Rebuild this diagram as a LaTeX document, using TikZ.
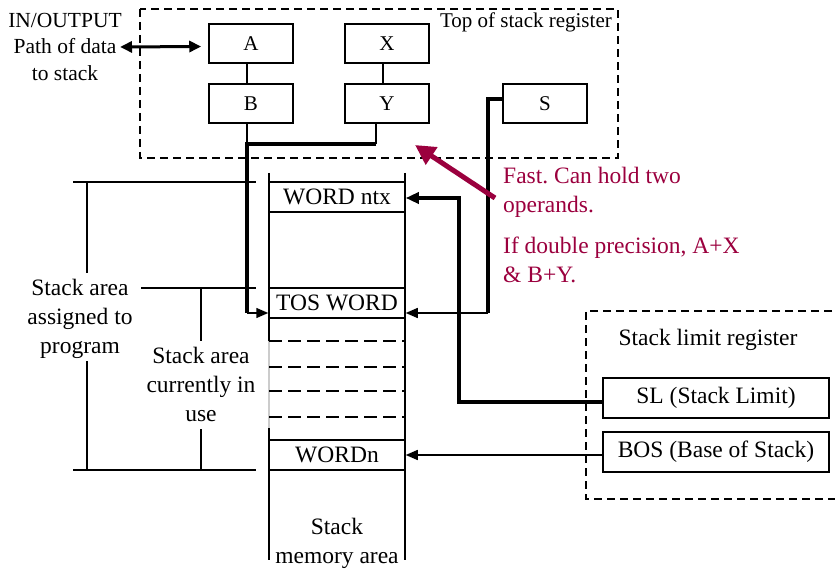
\documentclass[tikz,border=0pt]{standalone}
\usepackage{fontspec}
\setmainfont{Liberation Serif}
\usetikzlibrary{arrows.meta,calc}
\definecolor{maroon}{RGB}{155,0,62}
\frenchspacing
\tikzset{
  reg/.style={draw, line width=1.5pt, minimum width=84pt, minimum height=39pt, inner sep=0pt, font=\fontsize{21}{26}\selectfont},
  cell/.style={draw, line width=1.5pt, minimum width=136pt, minimum height=30pt, inner sep=0pt, font=\fontsize{23.5}{28}\selectfont},
  limbox/.style={draw, line width=1.5pt, minimum width=226pt, minimum height=40pt, inner sep=0pt, font=\fontsize{23.5}{28}\selectfont},
  wire/.style={line width=1.5pt},
  bus/.style={line width=3.5pt},
  arr/.style={-{Triangle[length=12pt,width=10pt]}},
  lbl/.style={align=center, inner sep=0pt, font=\fontsize{23.5}{29}\selectfont},
  dashbox/.style={line width=1.5pt, dash pattern=on 8pt off 5pt},
  slot/.style={line width=1.5pt, dash pattern=on 13pt off 6pt},
  note/.style={align=left, anchor=west, inner sep=0pt, text=maroon, font=\fontsize{23.5}{29}\selectfont}
}
\begin{document}
\begin{tikzpicture}[x=1pt,y=-1pt]
\useasboundingbox (0,0) rectangle (835,569);
% top of stack register
\draw[dashbox] (140,9) rectangle (618,158);
\node[anchor=base east, inner sep=0pt, font=\fontsize{21}{26}\selectfont] (tostitle) at (612,28) {Top of stack register};
\node[reg] (A) at (251,43.5) {A};
\node[reg] (X) at (387,43.5) {X};
\node[reg] (B) at (251,103.5) {B};
\node[reg] (Y) at (387,103.5) {Y};
\node[reg] (S) at (545,103.5) {S};
\draw[wire] ($(A.south)+(-4,0)$) -- ($(B.north)+(-4,0)$);
\draw[wire] ($(X.south)+(-4,0)$) -- ($(Y.north)+(-4,0)$);
% in/output
\node[lbl, font=\fontsize{21.5}{26.5}\selectfont] (io) at (65,46.5) {IN/OUTPUT\\Path of data\\to stack};
\coordinate (ioend) at (120,47);
\draw[line width=3pt, {Triangle[length=12pt,width=11pt]}-{Triangle[length=12pt,width=11pt]}] (ioend) -- ($(A.west)+(-7,3)$);
% stack memory
\node[cell] (ntx) at (337,197) {WORD ntx};
\node[cell] (TOS) at (337,303) {TOS WORD};
\node[cell] (WN) at (337,455) {WORDn};
\draw[wire] (269,173) -- (269,341);
\draw[wire, black!20] (269,341) -- (269,428);
\draw[wire] (269,428) -- (269,560);
\draw[wire] (405,173) -- (405,560);
\foreach \yy in {341,367,391,417} \draw[slot] (269,\yy) -- (405,\yy);
\node[lbl] (smem) at (337,543.5) {Stack\\memory area};
% B/Y to TOS
\coordinate (bj) at (247,144);
\coordinate (yj) at (376,144);
\coordinate (tosl) at (247,313);
\draw[wire] ($(B.south)+(-4,0)$) -- (bj);
\draw[wire] ($(Y.south)+(-11,0)$) -- (yj);
\draw[bus] (yj) -- (bj) -- (tosl);
\draw[wire, arr] (tosl) -- (tosl -| TOS.west);
% S to TOS
\coordinate (sj) at (488,99);
\coordinate (tosr) at (488,313);
\draw[bus] ($(S.west)+(0,-4.5)$) -- (sj) -- (tosr);
\draw[wire, arr] (tosr) -- (tosr -| TOS.east);
% stack limit register
\draw[dashbox] (845,311) -- (586,311) -- (586,499) -- (845,499);
\node[anchor=base, inner sep=0pt, font=\fontsize{23.5}{28}\selectfont] (sltitle) at (708,345) {Stack limit register};
\node[limbox] (SL) at (716,398) {SL (Stack Limit)};
\node[limbox] (BOS) at (716,452) {BOS (Base of Stack)};
\coordinate (c1) at (459,402);
\coordinate (c2) at (459,198);
\draw[bus, -{Triangle[length=13pt,width=11pt]}] (SL.west |- c1) -- (c1) -- (c2) -- (c2 -| ntx.east);
\draw[wire, arr] (WN.east -| BOS.west) -- (WN.east);
% brackets
\draw[wire] (73,182) -- (256,182);
\draw[wire] (73,470) -- (256,470);
\draw[wire] (87,182) -- (87,273);
\draw[wire] (87,361) -- (87,470);
\draw[wire] (141,288) -- (256,288);
\draw[wire] (201,288) -- (201,341);
\draw[wire] (201,429) -- (201,470);
\node[lbl] (assigned) at (80,319) {Stack area\\assigned to\\program};
\node[lbl] (inuse) at (201,384) {Stack area\\currently in\\use};
% note
\coordinate (fs) at (495,198);
\coordinate (ft) at (415,145);
\draw[maroon, line width=5pt, -{Triangle[length=20pt,width=20pt]}] (fs) -- (ft);
\node[note] (fast) at (503,192) {Fast. Can hold two\\operands.};
\node[note] (dbl) at (503,260) {If double precision, A+X\\\& B+Y.};
\end{tikzpicture}
\end{document}
